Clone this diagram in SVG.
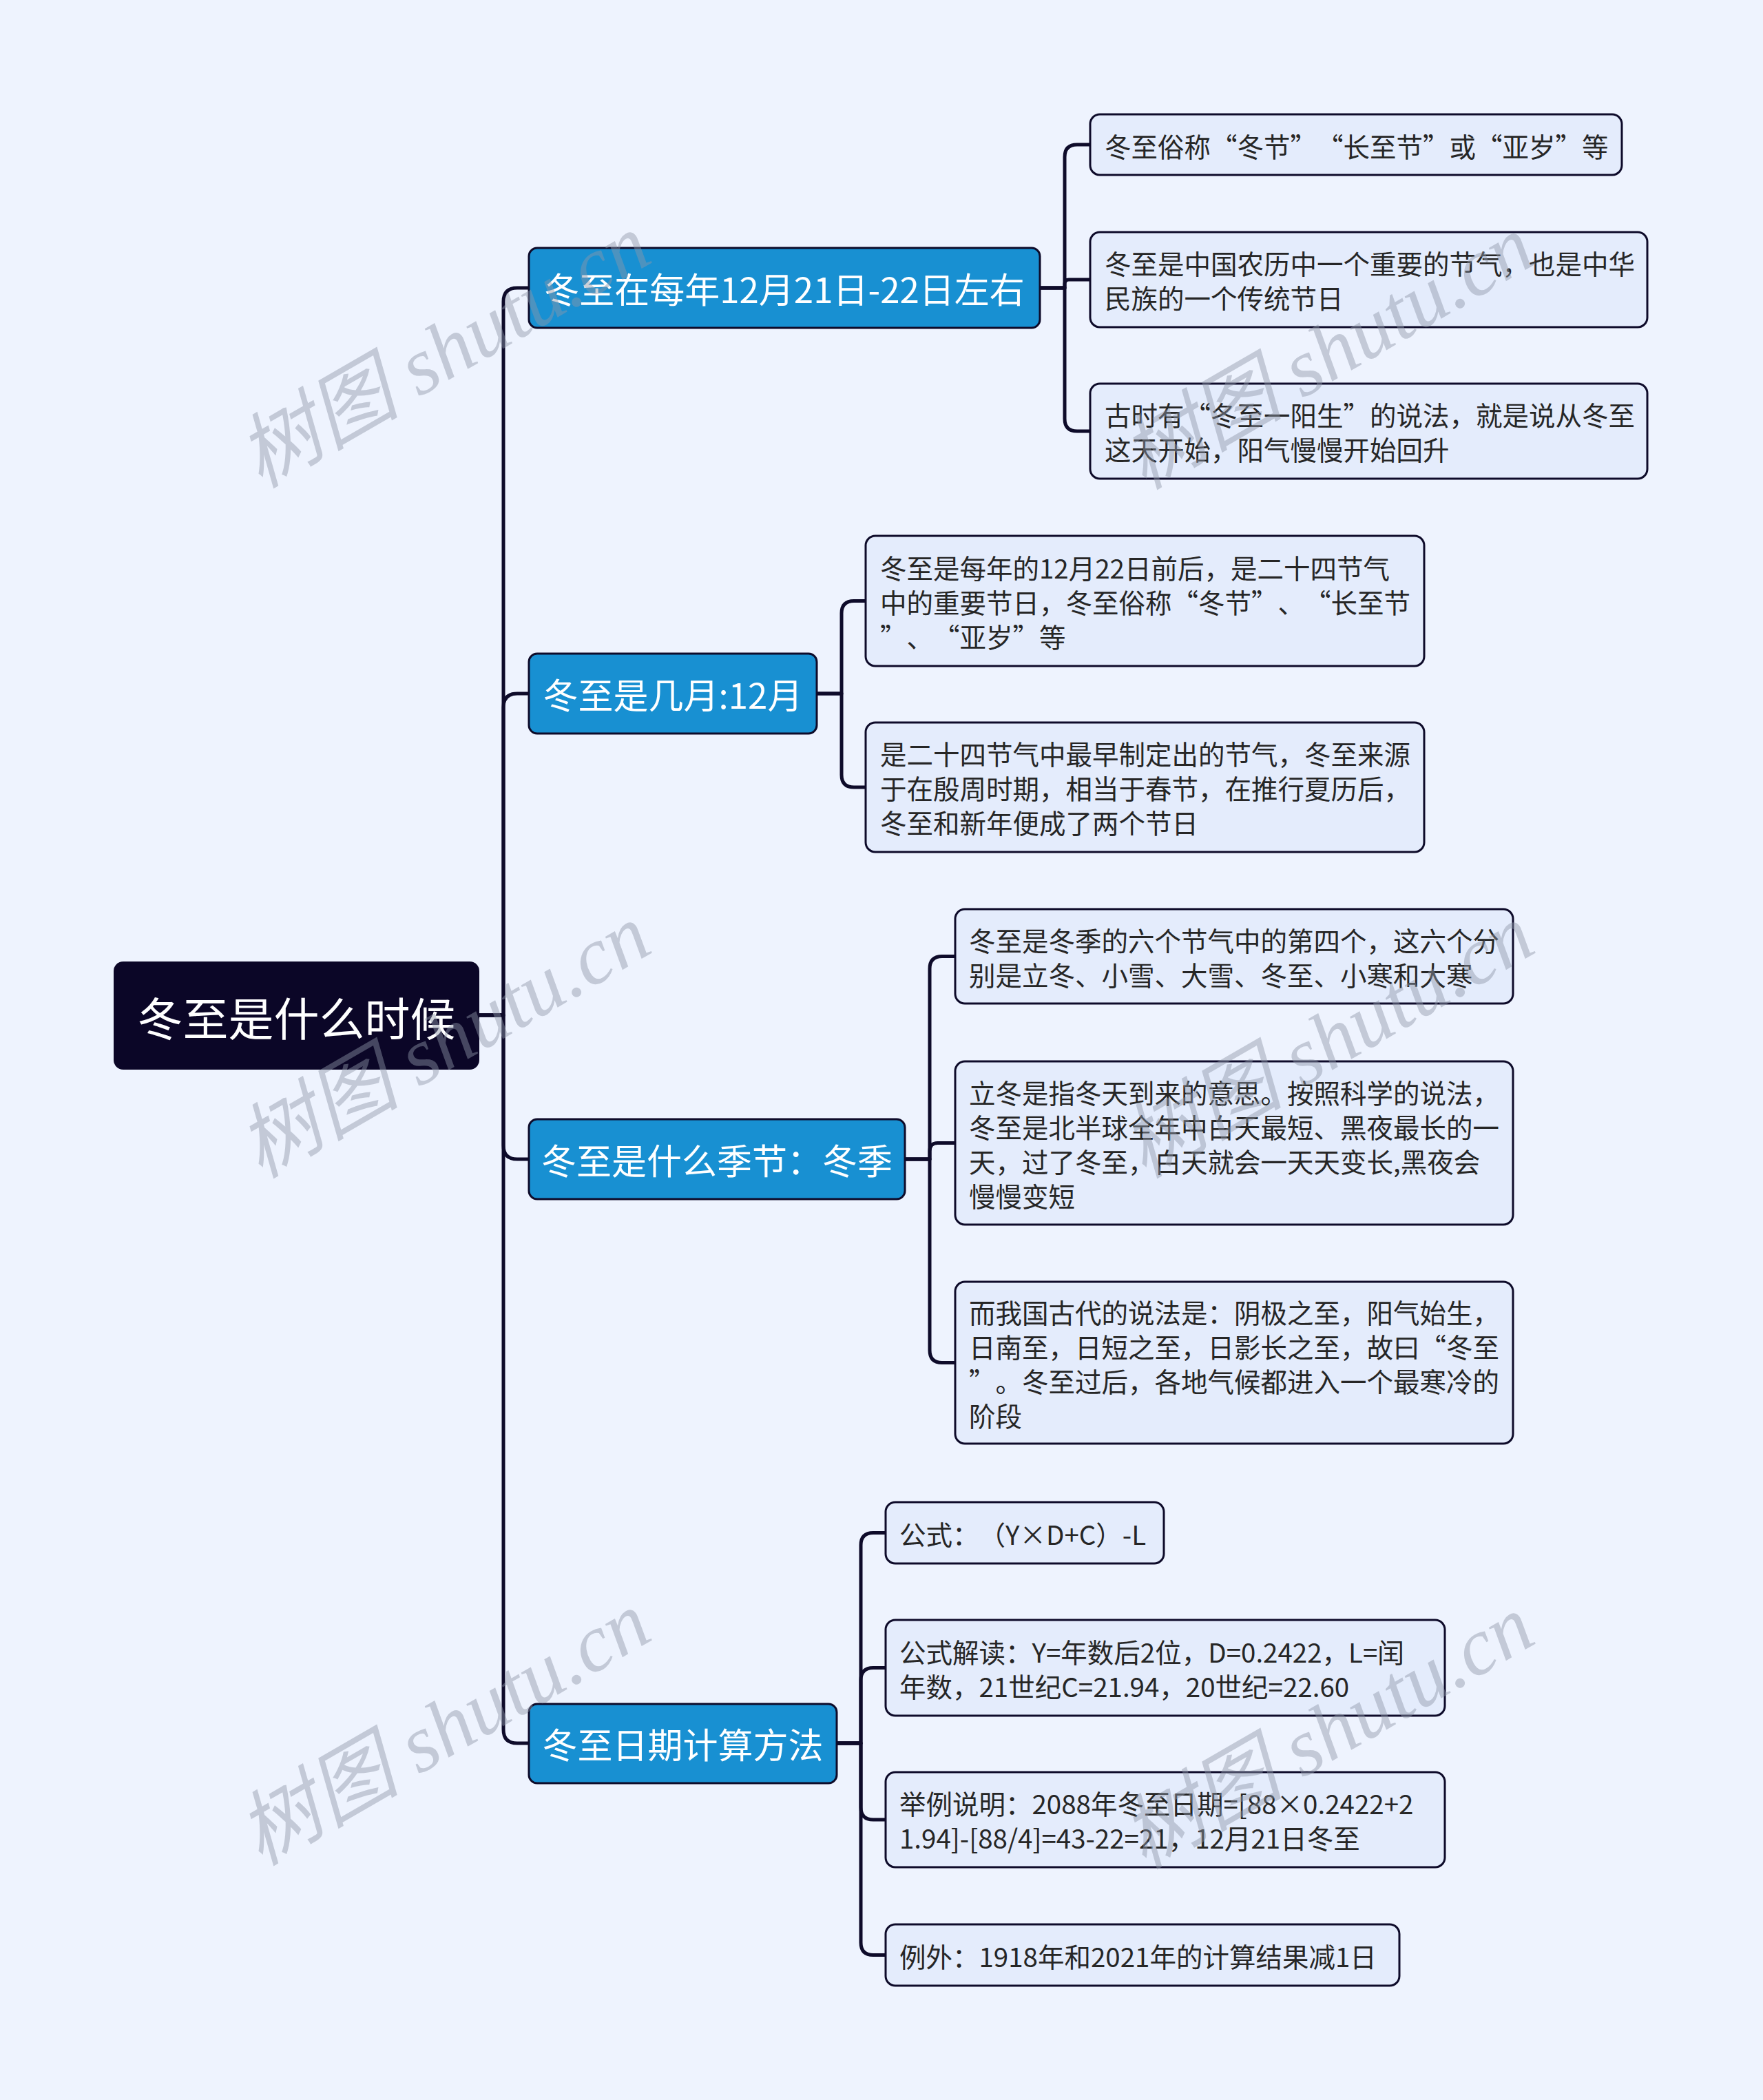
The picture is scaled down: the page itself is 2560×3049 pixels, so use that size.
<svg xmlns="http://www.w3.org/2000/svg" width="2560" height="3049" viewBox="0 0 2560 3049" xml:lang="zh-CN">
<style>
text{text-spacing-trim:space-all}
.bg{fill:#EEF3FE}
.root{fill:#0B0627}
.br{fill:#1890D2;stroke:#0E0B2A;stroke-width:3}
.lf{fill:#E4ECFC;stroke:#0E0B2A;stroke-width:3}
.rt{font-family:"Noto Sans CJK SC","Liberation Sans",sans-serif;font-size:66px;fill:#FFFFFF;text-anchor:middle;dominant-baseline:central}
.bt{font-family:"Noto Sans CJK SC","Liberation Sans",sans-serif;font-size:51px;fill:#FFFFFF;text-anchor:middle;dominant-baseline:central}
.lt{font-family:"Noto Sans CJK SC","Liberation Sans",sans-serif;font-size:38.5px;fill:#262626;dominant-baseline:central}
.cn{fill:none;stroke:#0E0B2A;stroke-width:5;stroke-linejoin:round}
.wm{font-family:"Liberation Serif","Noto Sans CJK SC",serif;font-style:italic;font-size:118px;fill:#8E96A8;fill-opacity:0.45;text-anchor:middle;dominant-baseline:central}
</style>
<rect class="bg" x="0" y="0" width="2560" height="3049"/>
<g id="connectors">
<path class="cn" d="M696,1474 H731 V438 Q731,418 751,418 H768"/>
<path class="cn" d="M696,1474 H731 V1027 Q731,1007 751,1007 H768"/>
<path class="cn" d="M696,1474 H731 V1663 Q731,1683 751,1683 H768"/>
<path class="cn" d="M696,1474 H731 V2511 Q731,2531 751,2531 H768"/>
<path class="cn" d="M1510,418 H1546 V228 Q1546,210 1564,210 H1583"/>
<path class="cn" d="M1510,418 H1546 V412 Q1546,406 1552,406 H1583"/>
<path class="cn" d="M1510,418 H1546 V608 Q1546,626 1564,626 H1583"/>
<path class="cn" d="M1186,1007 H1222 V890.5 Q1222,872.5 1240,872.5 H1257"/>
<path class="cn" d="M1186,1007 H1222 V1125 Q1222,1143 1240,1143 H1257"/>
<path class="cn" d="M1314,1683 H1350 V1406.5 Q1350,1388.5 1368,1388.5 H1387"/>
<path class="cn" d="M1314,1683 H1350 V1671.25 Q1350,1659.5 1361.75,1659.5 H1387"/>
<path class="cn" d="M1314,1683 H1350 V1960.5 Q1350,1978.5 1368,1978.5 H1387"/>
<path class="cn" d="M1215,2531 H1250 V2243.5 Q1250,2225.5 1268,2225.5 H1286"/>
<path class="cn" d="M1215,2531 H1250 V2439.5 Q1250,2421.5 1268,2421.5 H1286"/>
<path class="cn" d="M1215,2531 H1250 V2624 Q1250,2642 1268,2642 H1286"/>
<path class="cn" d="M1215,2531 H1250 V2820.5 Q1250,2838.5 1268,2838.5 H1286"/>
</g>
<g id="root">
<rect class="root" x="165" y="1396" width="531" height="157" rx="14"/>
<text class="rt" x="430.5" y="1474.5">冬至是什么时候</text>
</g>
<g id="b1">
<rect class="br" x="768" y="360" width="742" height="116" rx="12"/>
<text class="bt" x="1139" y="418">冬至在每年12月21日-22日左右</text>
</g>
<g id="b2">
<rect class="br" x="768" y="949" width="418" height="116" rx="12"/>
<text class="bt" x="977" y="1007">冬至是几月:12月</text>
</g>
<g id="b3">
<rect class="br" x="768" y="1625" width="546" height="116" rx="12"/>
<text class="bt" x="1041" y="1683">冬至是什么季节：冬季</text>
</g>
<g id="b4">
<rect class="br" x="768" y="2474" width="447" height="115" rx="12"/>
<text class="bt" x="991.5" y="2531">冬至日期计算方法</text>
</g>
<g id="l1a">
<rect class="lf" x="1583" y="166" width="772" height="88" rx="14"/>
<text class="lt" x="1604" y="211">冬至俗称“冬节”“长至节”或“亚岁”等</text>
</g>
<g id="l1b">
<rect class="lf" x="1583" y="337" width="809" height="138" rx="14"/>
<text class="lt" x="1604" y="381">冬至是中国农历中一个重要的节气，也是中华</text>
<text class="lt" x="1604" y="431">民族的一个传统节日</text>
</g>
<g id="l1c">
<rect class="lf" x="1583" y="557" width="809" height="138" rx="14"/>
<text class="lt" x="1604" y="601">古时有“冬至一阳生”的说法，就是说从冬至</text>
<text class="lt" x="1604" y="651">这天开始，阳气慢慢开始回升</text>
</g>
<g id="l2a">
<rect class="lf" x="1257" y="778" width="811" height="189" rx="14"/>
<text class="lt" x="1278" y="822.5">冬至是每年的12月22日前后，是二十四节气</text>
<text class="lt" x="1278" y="872.5">中的重要节日，冬至俗称“冬节”、“长至节</text>
<text class="lt" x="1278" y="922.5">”、“亚岁”等</text>
</g>
<g id="l2b">
<rect class="lf" x="1257" y="1049" width="811" height="188" rx="14"/>
<text class="lt" x="1278" y="1093">是二十四节气中最早制定出的节气，冬至来源</text>
<text class="lt" x="1278" y="1143">于在殷周时期，相当于春节，在推行夏历后，</text>
<text class="lt" x="1278" y="1193">冬至和新年便成了两个节日</text>
</g>
<g id="l3a">
<rect class="lf" x="1387" y="1320" width="810" height="137" rx="14"/>
<text class="lt" x="1407" y="1364">冬至是冬季的六个节气中的第四个，这六个分</text>
<text class="lt" x="1407" y="1414">别是立冬、小雪、大雪、冬至、小寒和大寒</text>
</g>
<g id="l3b">
<rect class="lf" x="1387" y="1541" width="810" height="237" rx="14"/>
<text class="lt" x="1407" y="1585">立冬是指冬天到来的意思。按照科学的说法，</text>
<text class="lt" x="1407" y="1635">冬至是北半球全年中白天最短、黑夜最长的一</text>
<text class="lt" x="1407" y="1685">天，过了冬至，白天就会一天天变长,黑夜会</text>
<text class="lt" x="1407" y="1735">慢慢变短</text>
</g>
<g id="l3c">
<rect class="lf" x="1387" y="1861" width="810" height="235" rx="14"/>
<text class="lt" x="1407" y="1904">而我国古代的说法是：阴极之至，阳气始生，</text>
<text class="lt" x="1407" y="1954">日南至，日短之至，日影长之至，故曰“冬至</text>
<text class="lt" x="1407" y="2004">”。冬至过后，各地气候都进入一个最寒冷的</text>
<text class="lt" x="1407" y="2054">阶段</text>
</g>
<g id="l4a">
<rect class="lf" x="1286" y="2181" width="404" height="89" rx="14"/>
<text class="lt" x="1306" y="2225.5">公式：（Y×D+C）-L</text>
</g>
<g id="l4b">
<rect class="lf" x="1286" y="2352" width="812" height="139" rx="14"/>
<text class="lt" x="1306" y="2397">公式解读：Y=年数后2位，D=0.2422，L=闰</text>
<text class="lt" x="1306" y="2447">年数，21世纪C=21.94，20世纪=22.60</text>
</g>
<g id="l4c">
<rect class="lf" x="1286" y="2573" width="812" height="138" rx="14"/>
<text class="lt" x="1306" y="2617">举例说明：2088年冬至日期=[88×0.2422+2</text>
<text class="lt" x="1306" y="2667">1.94]-[88/4]=43-22=21，12月21日冬至</text>
</g>
<g id="l4d">
<rect class="lf" x="1286" y="2794" width="746" height="89" rx="14"/>
<text class="lt" x="1306" y="2838.5">例外：1918年和2021年的计算结果减1日</text>
</g>
<g id="watermarks">
<text class="wm" x="645" y="510" transform="rotate(-30 645 510)">树图 shutu.cn</text>
<text class="wm" x="645" y="1512" transform="rotate(-30 645 1512)">树图 shutu.cn</text>
<text class="wm" x="645" y="2510" transform="rotate(-30 645 2510)">树图 shutu.cn</text>
<text class="wm" x="1928" y="512" transform="rotate(-30 1928 512)">树图 shutu.cn</text>
<text class="wm" x="1928" y="1512" transform="rotate(-30 1928 1512)">树图 shutu.cn</text>
<text class="wm" x="1928" y="2515" transform="rotate(-30 1928 2515)">树图 shutu.cn</text>
</g>
</svg>
